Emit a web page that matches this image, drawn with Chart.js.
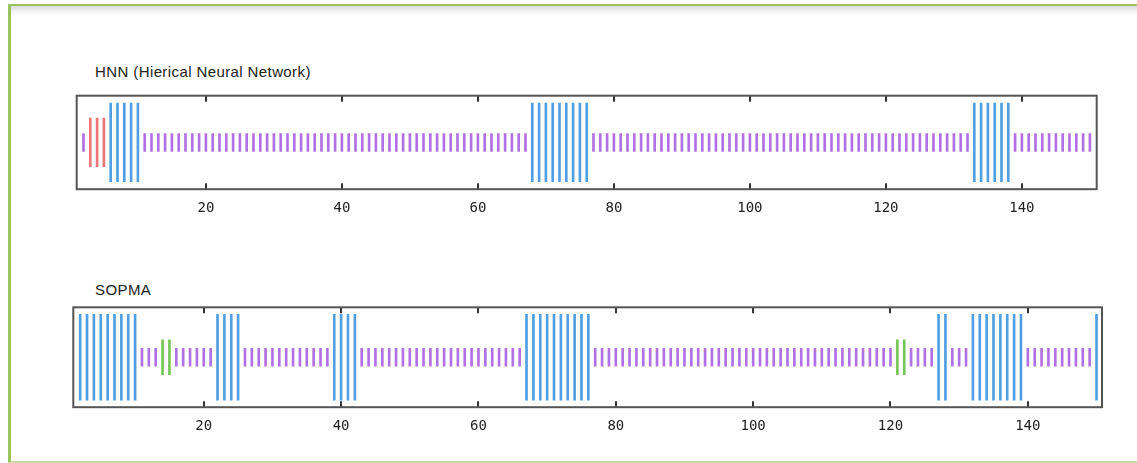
<!DOCTYPE html>
<html>
<head>
<meta charset="utf-8">
<script src="https://cdn.jsdelivr.net/npm/chart.js@4"></script>
<style>
  html, body { margin:0; padding:0; background:#fff; width:1137px; height:463px; overflow:hidden; }
  #border { position:absolute; left:8px; top:4px; width:1140px; height:455px;
    border-left:3px solid #9cc45c; border-top:2px solid #9cc45c; border-bottom:2px solid #c6dca4;
    box-shadow: inset 0 9px 10px -7px rgba(0,0,0,0.22); }
  canvas { position:absolute; left:0; }
  .title { position:absolute; font-family:"Liberation Sans", Arial, sans-serif; font-size:15px; letter-spacing:0.4px; color:#222; white-space:nowrap; }
</style>
</head>
<body>
<div id="border"></div>
<div class="title" style="left:95px; top:63px;">HNN (Hierical Neural Network)</div>
<div class="title" style="left:95px; top:281px;">SOPMA</div>
<canvas id="c1" width="1137" height="230" style="top:0px;"></canvas>
<canvas id="c2" width="1137" height="233" style="top:230px;"></canvas>
<script>
// ---- data ----
const firstResidue = 2;
const tickValues = [20, 40, 60, 80, 100, 120, 140];
// secondary structure per residue (H = helix, E = strand, C = coil), residues 2..150
const hnnStructure = [
  "CEEEHHHHH",
  "CCCCCCCCCC", "CCCCCCCCCC", "CCCCCCCCCC", "CCCCCCCCCC", "CCCCCCCCCC",
  "CCCCCCCHHH", "HHHHHHCCCC",
  "CCCCCCCCCC", "CCCCCCCCCC", "CCCCCCCCCC", "CCCCCCCCCC", "CCCCCCCCCC",
  "CCHHHHHHCC", "CCCCCCCCCC"
].join("");
const sopmaStructure = [
  "HHHHHHHHH",
  "CCCEECCCCC", "CHHHHCCCCC", "CCCCCCCCHH", "HHCCCCCCCC", "CCCCCCCCCC",
  "CCCCCCHHHH", "HHHHHHCCCC",
  "CCCCCCCCCC", "CCCCCCCCCC", "CCCCCCCCCC", "CCCCCCCCCC",
  "EECCCCHHCC", "CHHHHHHHHC", "CCCCCCCCCH"
].join("");
// half-heights of the marks for each class (fraction of the panel half-height)
const hnnHeights = { H: 0.84, E: 0.52, C: 0.19 };
const sopmaHeights = { H: 0.86, E: 0.35, C: 0.18 };

// ---- styling ----
const colors = { H: "#4f9fe2", C: "#b170e4" };
const strandColors = { hnn: "#ee7676", sopma: "#74c655" };

function buildDatasets(structure, heights, strandColor) {
  const classes = ["C", "E", "H"];
  return classes.map(cls => {
    const data = [];
    for (let i = 0; i < structure.length; i++) {
      if (structure[i] === cls) {
        const h = heights[cls];
        data.push({ x: firstResidue + i, y: [-h, h] });
      }
    }
    return {
      label: cls,
      data,
      backgroundColor: cls === "E" ? strandColor : colors[cls],
      borderWidth: 0,
      barThickness: 2,
      grouped: false
    };
  });
}

const framePlugin = {
  id: "frame",
  afterDatasetsDraw(chart) {
    const { ctx, chartArea: a, scales } = chart;
    ctx.save();
    ctx.strokeStyle = "#333";
    ctx.lineWidth = 2;
    tickValues.forEach(v => {
      const x = Math.round(scales.x.getPixelForValue(v));
      ctx.beginPath();
      ctx.moveTo(x, a.top); ctx.lineTo(x, a.top + 6);
      ctx.moveTo(x, a.bottom); ctx.lineTo(x, a.bottom - 6);
      ctx.stroke();
    });
    ctx.strokeStyle = "#555";
    ctx.lineWidth = 2;
    ctx.strokeRect(a.left, a.top, a.right - a.left, a.bottom - a.top);
    ctx.restore();
  }
};

function makeChart(id, structure, heights, strandColor, xMin, xMax, padding) {
  return new Chart(document.getElementById(id), {
    type: "bar",
    data: { datasets: buildDatasets(structure, heights, strandColor) },
    options: {
      responsive: false,
      animation: false,
      layout: { padding },
      plugins: { legend: { display: false }, tooltip: { enabled: false }, title: { display: false } },
      scales: {
        x: {
          type: "linear",
          offset: false,
          min: xMin, max: xMax,
          grid: { display: false, drawTicks: false, offset: false },
          border: { display: false },
          afterBuildTicks: s => { s.ticks = tickValues.map(v => ({ value: v })); },
          ticks: {
            autoSkip: false, maxRotation: 0, padding: 11,
            color: "#222",
            font: { family: "'DejaVu Sans Mono', 'Liberation Mono', monospace", size: 14 }
          }
        },
        y: { display: false, min: -1, max: 1 }
      }
    },
    plugins: [framePlugin]
  });
}

makeChart("c1", hnnStructure, hnnHeights, strandColors.hnn, 1, 151,
  { left: 76.7, right: 40.3, top: 95.7, bottom: 2 });
makeChart("c2", sopmaStructure, sopmaHeights, strandColors.sopma, 1, 150.8,
  { left: 73.3, right: 35, top: 77.3, bottom: 17 });
</script>
</body>
</html>
